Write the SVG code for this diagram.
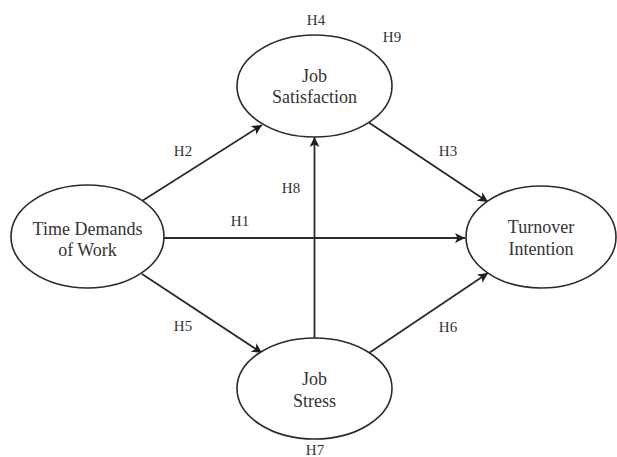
<svg xmlns="http://www.w3.org/2000/svg" width="617" height="457" viewBox="0 0 617 457">
<style>
.node ellipse{fill:#fff;stroke:#2a2a2a;stroke-width:1.6}
.t{font-family:"Liberation Serif","Times New Roman",serif;font-size:18px;fill:#333;text-anchor:middle}
.lbl{font-family:"Liberation Serif","Times New Roman",serif;font-size:15px;fill:#333;text-anchor:middle}
.edges line{stroke:#2a2a2a;stroke-width:1.8;fill:none}
</style>
<defs>
<marker id="arr" viewBox="0 0 10 10" refX="10" refY="5" markerWidth="10" markerHeight="10" markerUnits="userSpaceOnUse" orient="auto">
<path d="M0,0 L10,5 L0,10 L2.5,5 Z" fill="#1e1e1e"/>
</marker>
</defs>
<rect width="617" height="457" fill="#fff"/>
<g class="edges">
<line x1="142" y1="201" x2="262" y2="125" marker-end="url(#arr)"/>
<line x1="164" y1="238" x2="465" y2="238" marker-end="url(#arr)"/>
<line x1="142" y1="274" x2="262" y2="353" marker-end="url(#arr)"/>
<line x1="314.5" y1="338" x2="314.5" y2="137" marker-end="url(#arr)"/>
<line x1="368" y1="122" x2="488" y2="202" marker-end="url(#arr)"/>
<line x1="369" y1="353" x2="488" y2="273" marker-end="url(#arr)"/>
</g>
<g id="time-demands" class="node">
<ellipse cx="87.5" cy="236.5" rx="76.5" ry="51.5"/>
<text class="t" x="87.5" y="235">Time Demands</text>
<text class="t" x="87.5" y="256">of Work</text>
</g>
<g id="job-satisfaction" class="node">
<ellipse cx="314.5" cy="86" rx="77.5" ry="51"/>
<text class="t" x="314.5" y="82">Job</text>
<text class="t" x="314.5" y="103">Satisfaction</text>
</g>
<g id="job-stress" class="node">
<ellipse cx="314.5" cy="388.5" rx="77.5" ry="50.5"/>
<text class="t" x="314.5" y="385">Job</text>
<text class="t" x="314.5" y="407">Stress</text>
</g>
<g id="turnover" class="node">
<ellipse cx="541" cy="237" rx="75" ry="51"/>
<text class="t" x="541" y="233">Turnover</text>
<text class="t" x="541" y="255">Intention</text>
</g>
<g id="labels">
<text class="lbl" x="316" y="25">H4</text>
<text class="lbl" x="392" y="42">H9</text>
<text class="lbl" x="183" y="156">H2</text>
<text class="lbl" x="291" y="193">H8</text>
<text class="lbl" x="240" y="226">H1</text>
<text class="lbl" x="448" y="156">H3</text>
<text class="lbl" x="183" y="331">H5</text>
<text class="lbl" x="448" y="332">H6</text>
<text class="lbl" x="315" y="455">H7</text>
</g>
</svg>
